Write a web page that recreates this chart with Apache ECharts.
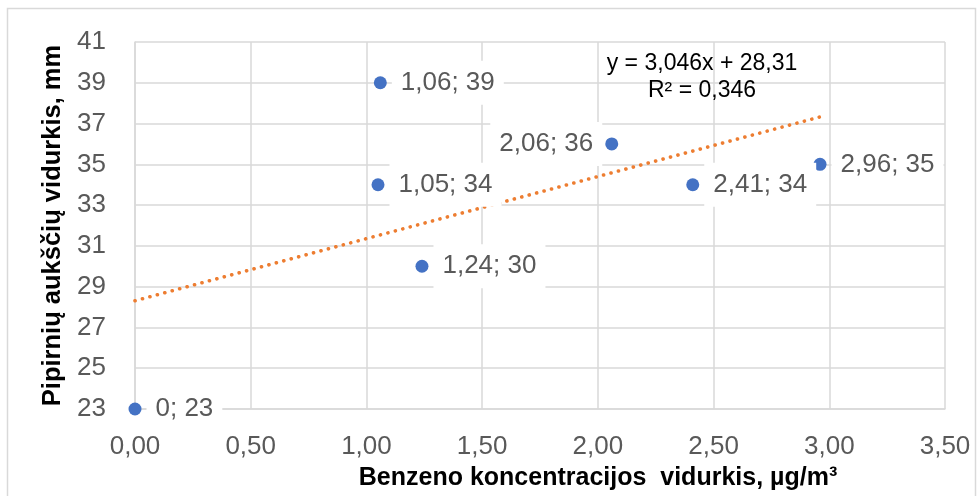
<!DOCTYPE html>
<html>
<head>
<meta charset="utf-8">
<script src="https://cdn.jsdelivr.net/npm/echarts@6/dist/echarts.min.js"></script>
<style>
html,body{margin:0;padding:0;background:#fff;}
#chart{width:978px;height:496px;}
</style>
</head>
<body>
<div id="chart"></div>
<script>
// ---- data ----
const xValues = [0, 1.05, 1.06, 1.24, 2.06, 2.41, 2.96];
const yValues = [23, 34, 39, 30, 36, 34, 35];
const xTitle = 'Benzeno koncentracijos  vidurkis, µg/m³';
const yTitle = 'Pipirnių aukščių vidurkis, mm';
const xAxisMin = 0, xAxisMax = 3.5, xAxisStep = 0.5;
const yAxisMin = 23, yAxisMax = 41, yAxisStep = 2;

// ---- linear regression (trendline) ----
const n = xValues.length;
const mx = xValues.reduce((a, b) => a + b, 0) / n;
const my = yValues.reduce((a, b) => a + b, 0) / n;
let sxy = 0, sxx = 0, syy = 0;
for (let i = 0; i < n; i++) {
  sxy += (xValues[i] - mx) * (yValues[i] - my);
  sxx += (xValues[i] - mx) ** 2;
  syy += (yValues[i] - my) ** 2;
}
const slope = sxy / sxx;
const intercept = my - slope * mx;
const r2 = (sxy * sxy) / (sxx * syy);
const xMaxData = Math.max(...xValues);
const xMinData = Math.min(...xValues);
const trendData = [[xMinData, intercept + slope * xMinData], [xMaxData, intercept + slope * xMaxData]];
const comma = s => String(s).replace('.', ',');
const eqText = 'y = ' + comma(slope.toFixed(3)) + 'x + ' + comma(intercept.toPrecision(4)) + '\nR² = ' + comma(r2.toFixed(3));

const FONT = '"Liberation Sans", Arial, sans-serif';
const leftLabelIdx = [4];

const pointData = xValues.map((x, i) => {
  const item = { value: [x, yValues[i]] };
  if (leftLabelIdx.includes(i)) item.label = { position: 'left', distance: 3 };
  return item;
});

const chart = echarts.init(document.getElementById('chart'), null, { renderer: 'canvas' });
chart.setOption({
  animation: false,
  backgroundColor: '#ffffff',
  grid: { left: 135, right: 33, top: 42, bottom: 87, containLabel: false },
  xAxis: {
    type: 'value',
    min: xAxisMin, max: xAxisMax, interval: xAxisStep,
    name: xTitle,
    nameLocation: 'middle',
    nameGap: 53,
    nameTextStyle: { fontFamily: FONT, fontWeight: 'bold', fontSize: 25, color: '#000', lineHeight: 26, padding: [0, 0, 0, 116] },
    axisLine: { show: true, lineStyle: { color: '#d9d9d9', width: 1.5 } },
    axisTick: { show: false },
    splitLine: { show: true, lineStyle: { color: '#d9d9d9', width: 1.5 } },
    axisLabel: { fontFamily: FONT, fontSize: 26, color: '#595959', margin: 25, lineHeight: 26,
      formatter: v => comma(v.toFixed(2)) }
  },
  yAxis: {
    type: 'value',
    min: yAxisMin, max: yAxisMax, interval: yAxisStep,
    name: yTitle,
    nameLocation: 'middle',
    nameGap: 66,
    nameTextStyle: { fontFamily: FONT, fontWeight: 'bold', fontSize: 25.5, color: '#000', lineHeight: 26 },
    axisLine: { show: true, lineStyle: { color: '#d9d9d9', width: 1.5 } },
    axisTick: { show: false },
    splitLine: { show: true, lineStyle: { color: '#d9d9d9', width: 1.5 } },
    axisLabel: { fontFamily: FONT, fontSize: 26, color: '#595959', margin: 29 }
  },
  series: [
    {
      type: 'line',
      data: trendData,
      showSymbol: false,
      symbol: 'none',
      silent: true,
      z: 1,
      lineStyle: { color: '#ED7D31', width: 3.6, type: [0.1, 7.6], cap: 'round', opacity: 1 }
    },
    {
      type: 'scatter',
      data: pointData,
      symbol: 'circle',
      symbolSize: 13,
      z: 2,
      itemStyle: { color: '#4472C4', opacity: 1 },
      label: {
        show: true,
        position: 'right',
        distance: 5,
        fontFamily: FONT,
        fontSize: 26,
        color: '#595959',
        backgroundColor: '#ffffff',
        padding: [9, 9, 9, 9],
        formatter: p => comma(p.value[0]) + '; ' + p.value[1]
      },
      labelLayout: { hideOverlap: false }
    }
  ],
  graphic: [
    {
      type: 'rect', silent: true, z: -10,
      shape: { x: 7.5, y: 8.5, width: 968, height: 500 },
      style: { fill: 'none', stroke: '#d9d9d9', lineWidth: 1.5 }
    },
    {
      type: 'text', silent: true, z: 10,
      x: 702, y: 77,
      style: {
        text: eqText, fontFamily: FONT, fontSize: 23, fill: '#000',
        align: 'center', verticalAlign: 'middle', lineHeight: 27
      }
    }
  ]
});
</script>
</body>
</html>
